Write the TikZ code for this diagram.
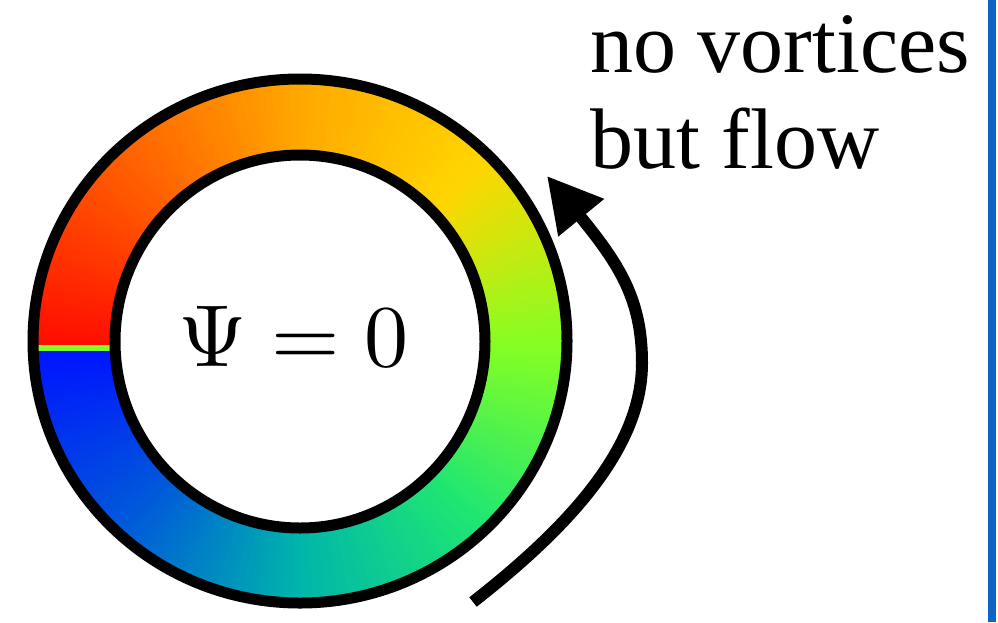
\documentclass[tikz,border=0pt]{standalone}
\usepackage{fontspec}
\newfontfamily\labfont{Liberation Serif}[Ligatures=TeX]
\usetikzlibrary{arrows.meta}
\definecolor{h0}{RGB}{255,12,0}
\definecolor{h1}{RGB}{255,92,0}
\definecolor{h2}{RGB}{255,168,0}
\definecolor{h3}{RGB}{255,214,0}
\definecolor{h4}{RGB}{132,255,36}
\definecolor{h5}{RGB}{30,230,115}
\definecolor{h6}{RGB}{0,182,170}
\definecolor{h7}{RGB}{0,90,218}
\definecolor{h8}{RGB}{0,20,255}
\definecolor{seamgreen}{RGB}{128,255,40}
\definecolor{barblue}{RGB}{12,100,196}
\tikzset{
  ring/.style={draw=black, line width=11pt},
  flowarrow/.style={draw=black, line width=12pt, -{Triangle[length=54pt,width=56pt]}},
  lab/.style={anchor=base west, inner sep=0pt},
}
\begin{document}
\begin{tikzpicture}[x=1pt,y=-1pt]
\useasboundingbox (0,0) rectangle (998,622);
\fill[white] (0,0) rectangle (998,622);
% colour wheel band
\begin{scope}
  \clip (300,341) ellipse [x radius=267, y radius=262];
  \foreach \i in {0,...,359} {
    \pgfmathtruncatemacro\s{floor(\i/45)}
    \pgfmathtruncatemacro\n{\s+1}
    \pgfmathtruncatemacro\p{round(100-100*(\i+0.5-45*\s)/45)}
    \colorlet{wc}{h\s!\p!h\n}
    \fill[wc] (300,348) -- +({180+\i-0.3}:330) -- +({181+\i+0.3}:330) -- cycle;
  }
\end{scope}
\draw[seamgreen, line width=6pt] (36,348) -- (112,348);
\draw[ring, fill=white] (300,341.5) ellipse [x radius=185, y radius=186.5];
\draw[ring] (300,341) ellipse [x radius=267, y radius=262];
% label in centre
\node[anchor=base west, inner sep=0pt, scale=8.8] (psi) at (177,366) {$\Psi=0$};
% flow arrow
\coordinate (as) at (473,602);
\coordinate (am) at (642,363);
\coordinate (ae) at (547,176);
\draw[flowarrow] (as) .. controls (565,530) and (642,450) .. (am) .. controls (642,300) and (620,265) .. (ae);
% text
\node[lab] (t1) at (590,72) {\labfont\fontsize{86}{96}\selectfont no vortices};
\node[lab] (t2) at (590,168) {\labfont\fontsize{86}{96}\selectfont but flow};
% blue bar
\fill[barblue] (988,0) rectangle (996,622);
\end{tikzpicture}
\end{document}
